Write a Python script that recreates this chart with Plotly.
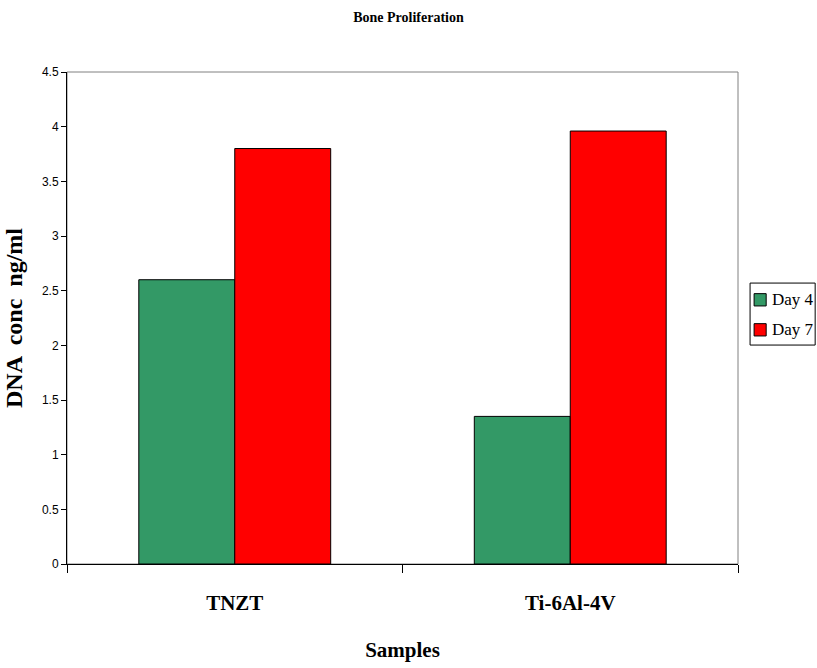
import plotly.graph_objects as go

categories = ["TNZT", "Ti-6Al-4V"]
day4 = [2.6, 1.35]
day7 = [3.8, 3.96]
series_names = ["Day 4", "Day 7"]
colors = ["#339966", "#ff0000"]
y_ticks = [0, 0.5, 1, 1.5, 2, 2.5, 3, 3.5, 4, 4.5]
y_tick_text = ["0", "0.5", "1", "1.5", "2", "2.5", "3", "3.5", "4", "4.5"]

fig = go.Figure()
for name, vals, col in zip(series_names, [day4, day7], colors):
    fig.add_trace(go.Bar(x=categories, y=vals, name=name, showlegend=False,
                         marker=dict(color=col, line=dict(color="black", width=1))))

serif = "Liberation Serif, Times New Roman, serif"
sans = "Liberation Sans, Arial, sans-serif"

fig.update_layout(
    width=817, height=668,
    margin=dict(l=67, r=79, t=72, b=104, autoexpand=False),
    paper_bgcolor="white", plot_bgcolor="white",
    barmode="group", bargap=0.428, bargroupgap=0,
    title=dict(text="<b>Bone Proliferation</b>", font=dict(family=serif, size=14, color="black"),
               x=0.5, xanchor="center", y=0.975, yanchor="middle"),
    font=dict(family=sans, color="black"),
)
fig.update_xaxes(
    showline=True, linecolor="black", linewidth=1,
    ticks="outside", ticklen=8, tickcolor="black", tickson="boundaries",
    tickfont=dict(family=serif, size=21, color="black"),
    tickprefix="<b>", ticksuffix="</b>", ticklabelstandoff=20,
    title=dict(text="<b>Samples</b>", font=dict(family=serif, size=21, color="black"), standoff=28),
    showgrid=False,
)
fig.update_yaxes(
    range=[0, 4.5], tickvals=y_ticks, ticktext=y_tick_text,
    showline=True, linecolor="black", linewidth=1,
    ticks="outside", ticklen=5, tickcolor="black",
    tickfont=dict(family=sans, size=12, color="black"),
    title=dict(text="<b>DNA  conc  ng/ml</b>", font=dict(family=serif, size=24, color="black"), standoff=12),
    showgrid=False, zeroline=False,
)
fig.add_shape(type="rect", xref="paper", yref="paper", x0=0, y0=0, x1=1, y1=1,
              line=dict(color="#808080", width=1), layer="below")

# Legend (drawn manually to fit the narrow right margin)
fig.add_shape(type="rect", xref="paper", yref="paper", x0=1.018, x1=1.115, y0=0.445, y1=0.571,
              line=dict(color="black", width=1), fillcolor="white")
item_y = [0.537, 0.476]
for name, col, yc in zip(series_names, colors, item_y):
    fig.add_shape(type="rect", xref="paper", yref="paper", x0=1.024, x1=1.042,
                  y0=yc - 0.0125, y1=yc + 0.0125, line=dict(color="black", width=1), fillcolor=col)
    fig.add_annotation(text=name, xref="paper", yref="paper", x=1.047, y=yc,
                       xanchor="left", yanchor="middle", showarrow=False,
                       font=dict(family=serif, size=17, color="black"))
fig.write_html("out.html")
